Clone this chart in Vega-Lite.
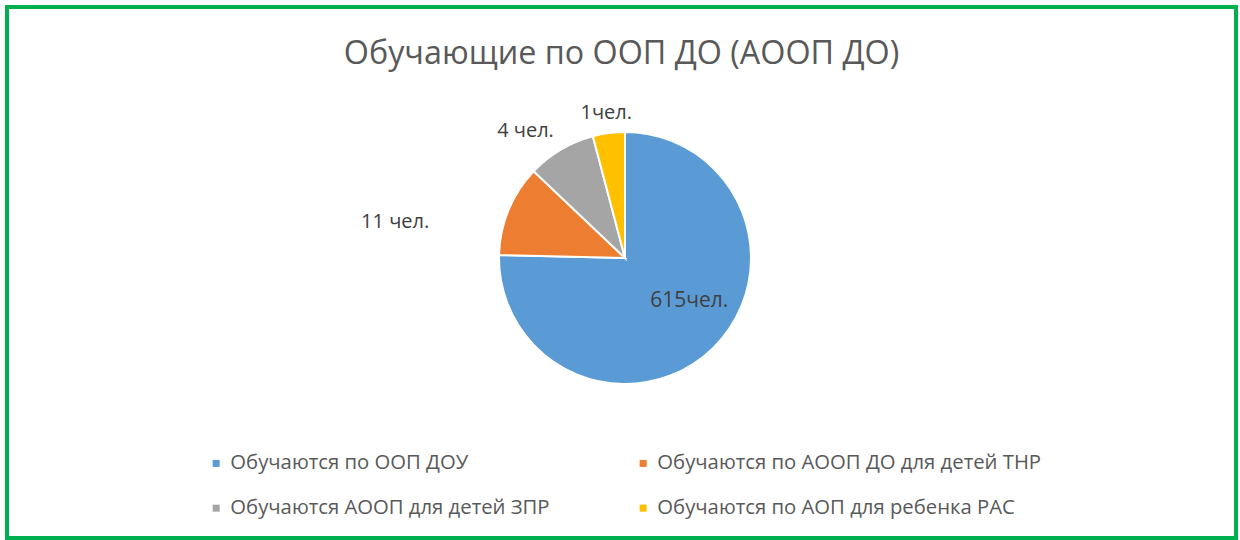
{
  "$schema": "https://vega.github.io/schema/vega-lite/v6.json",
  "width": 1240,
  "height": 540,
  "autosize": {"type": "fit", "contains": "padding"},
  "padding": {"left": 7, "top": 7, "right": 4, "bottom": 2},
  "background": "white",
  "view": {"stroke": "#00b050", "strokeWidth": 4, "fill": "white"},
  "config": {"view": {"stroke": "#00b050", "strokeWidth": 4}},
  "title": {
    "text": "Обучающие по ООП ДО (АООП ДО)",
    "frame": "group",
    "anchor": "middle",
    "offset": -89,
    "baseline": "alphabetic",
    "font": "Open Sans",
    "fontSize": 32.3,
    "fontWeight": "normal",
    "color": "#595959"
  },
  "data": {
    "values": [
      {"category": "Обучаются по ООП ДОУ", "value": 75.3, "label": "615чел.", "rank": 1},
      {"category": "Обучаются по АООП ДО для детей ТНР", "value": 11.7, "label": "11 чел.", "rank": 2},
      {"category": "Обучаются АООП для детей ЗПР", "value": 8.8, "label": "4 чел.", "rank": 3},
      {"category": "Обучаются по АОП для ребенка РАС", "value": 4.1, "label": "1чел.", "rank": 4}
    ]
  },
  "encoding": {
    "theta": {"field": "value", "type": "quantitative", "stack": true},
    "order": {"field": "rank", "type": "quantitative"}
  },
  "layer": [
    {
      "mark": {"type": "arc", "outerRadius": 126, "stroke": "white", "strokeWidth": 2, "xOffset": 3.5, "yOffset": -14.5},
      "encoding": {
        "color": {
          "field": "category",
          "type": "nominal",
          "sort": ["Обучаются по ООП ДОУ", "Обучаются по АООП ДО для детей ТНР", "Обучаются АООП для детей ЗПР", "Обучаются по АОП для ребенка РАС"],
          "scale": {
            "domain": ["Обучаются по ООП ДОУ", "Обучаются по АООП ДО для детей ТНР", "Обучаются АООП для детей ЗПР", "Обучаются по АОП для ребенка РАС"],
            "range": ["#5b9bd5", "#ed7d31", "#a5a5a5", "#ffc000"]
          },
          "legend": {
            "title": null,
            "orient": "none",
            "direction": "horizontal",
            "legendX": 199,
            "legendY": 446,
            "columns": 2,
            "columnPadding": 83,
            "rowPadding": 24,
            "symbolType": "square",
            "symbolSize": 49,
            "symbolStrokeWidth": 0,
            "labelFont": "Open Sans",
            "labelFontSize": 20.3,
            "labelColor": "#595959",
            "labelLimit": 0,
            "padding": 0
          }
        }
      }
    },
    {
      "mark": {"type": "text", "radius": 82, "dx": 10.5, "dy": -30.5, "font": "Open Sans", "fontSize": 21, "color": "#404040", "align": "center", "baseline": "middle"},
      "encoding": {"text": {"condition": {"test": "datum.rank == 1", "field": "label"}, "value": ""}}
    },
    {
      "mark": {"type": "text", "radius": 200, "dx": -41.5, "dy": 25.5, "font": "Open Sans", "fontSize": 20, "color": "#404040", "align": "center", "baseline": "middle"},
      "encoding": {"text": {"condition": {"test": "datum.rank == 2", "field": "label"}, "value": ""}}
    },
    {
      "mark": {"type": "text", "radius": 160, "dx": -14.5, "dy": -4, "font": "Open Sans", "fontSize": 20, "color": "#404040", "align": "center", "baseline": "middle"},
      "encoding": {"text": {"condition": {"test": "datum.rank == 3", "field": "label"}, "value": ""}}
    },
    {
      "mark": {"type": "text", "radius": 146, "dx": 3.5, "dy": -14.5, "font": "Open Sans", "fontSize": 20, "color": "#404040", "align": "center", "baseline": "middle"},
      "encoding": {"text": {"condition": {"test": "datum.rank == 4", "field": "label"}, "value": ""}}
    }
  ]
}
